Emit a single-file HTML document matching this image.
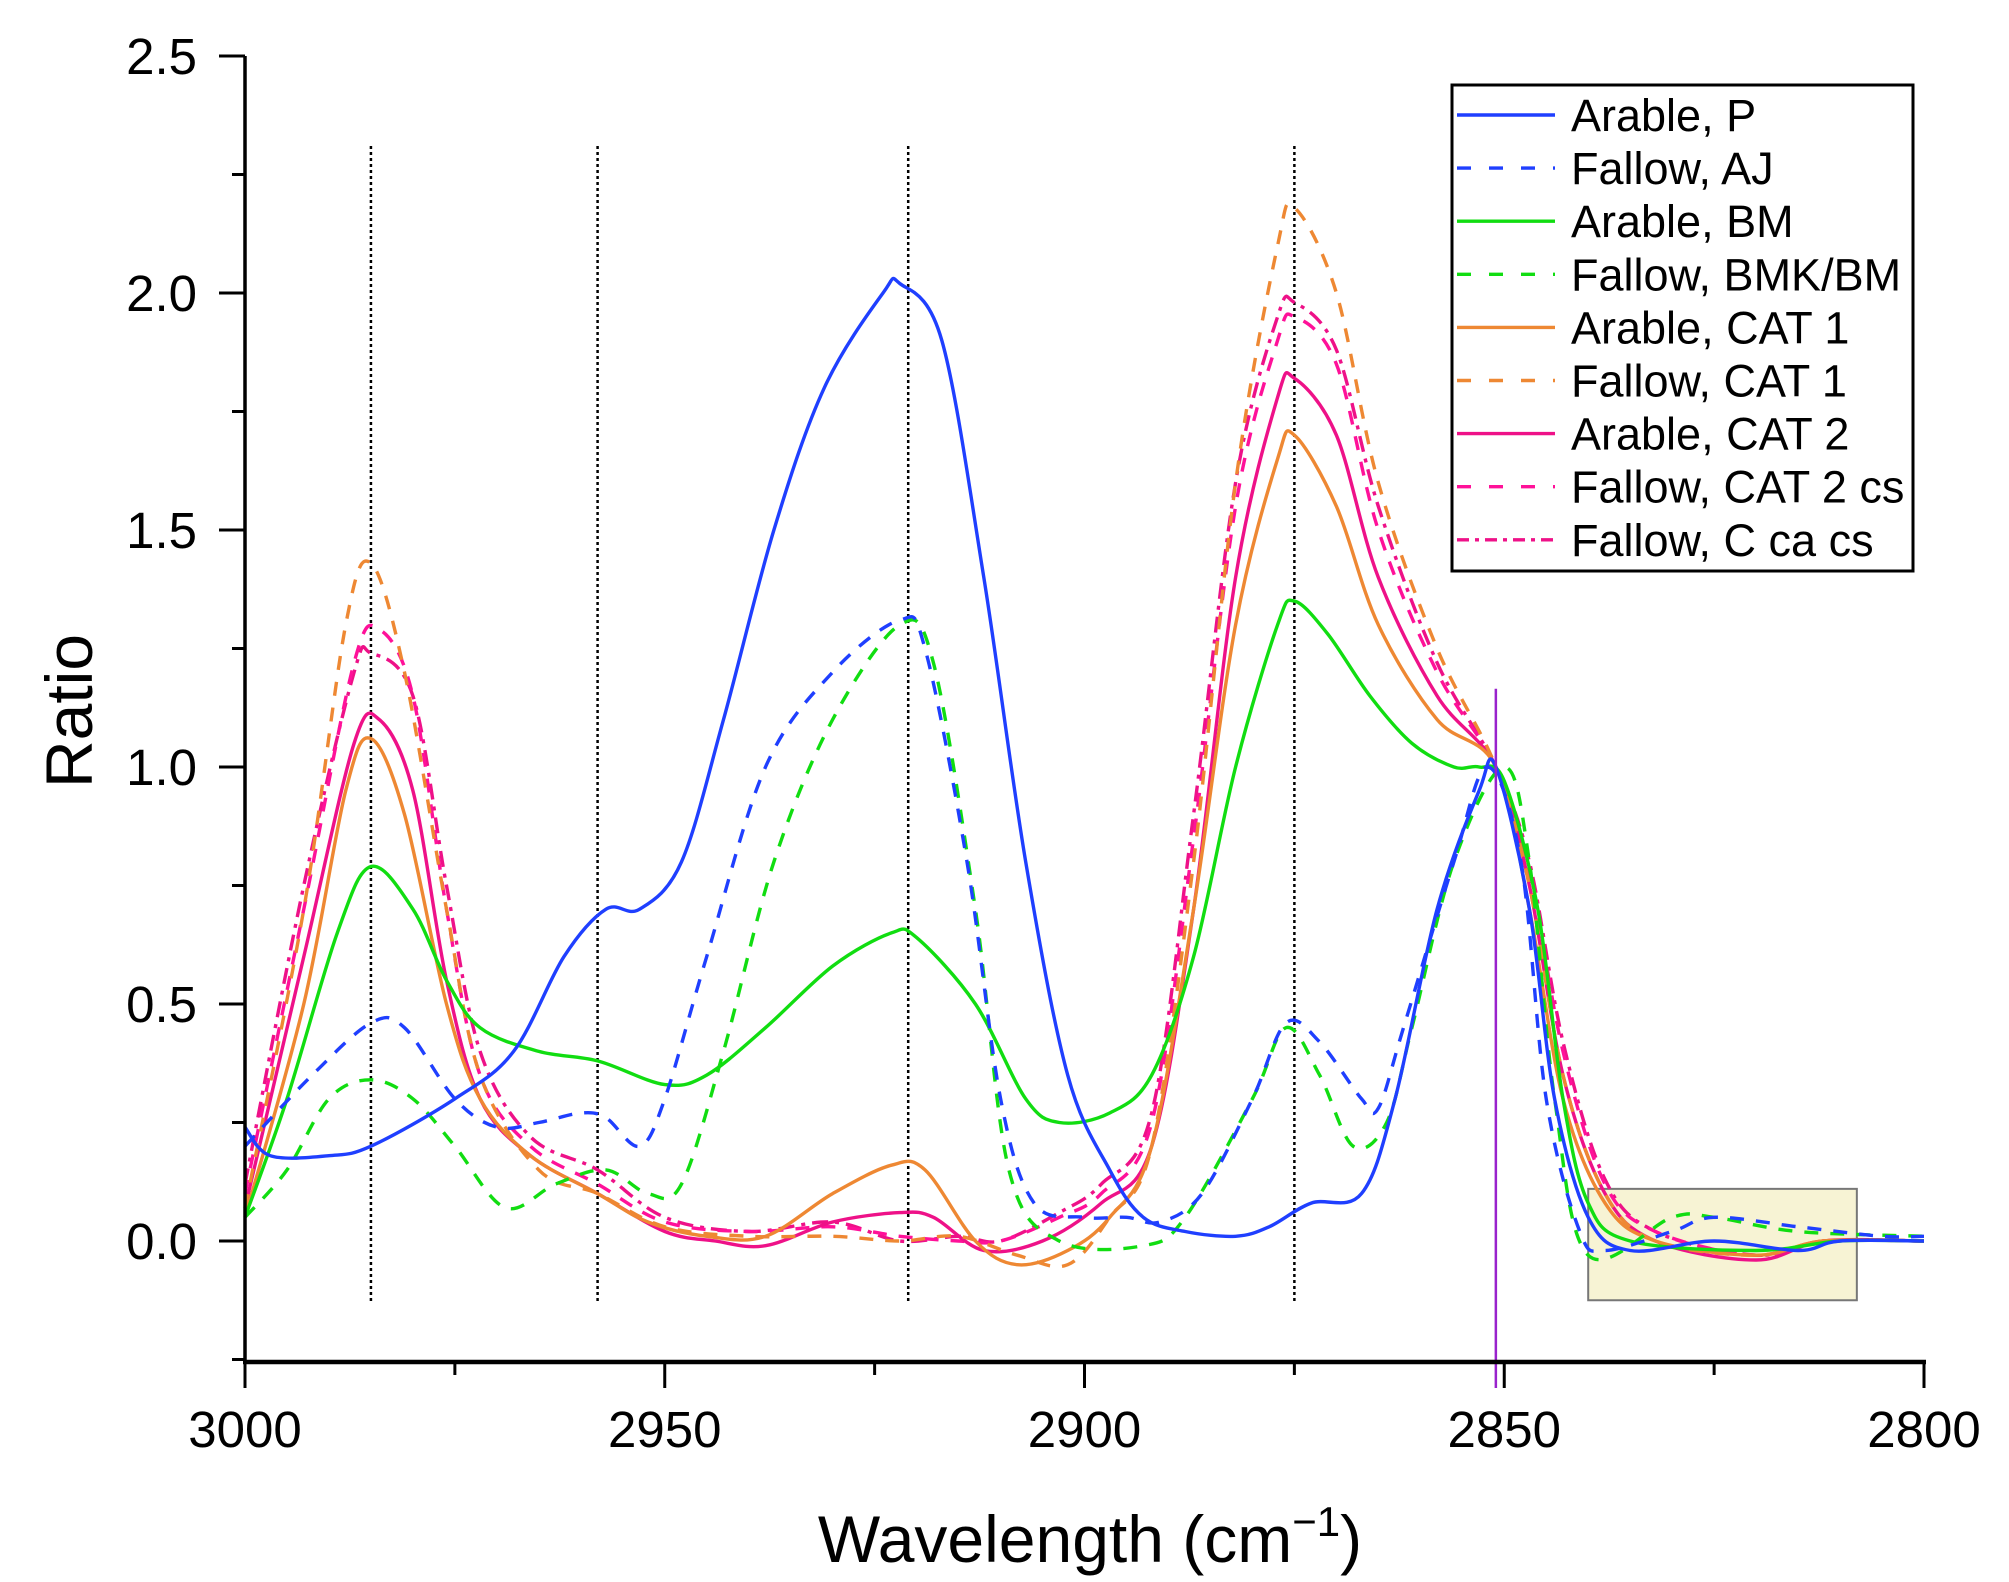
<!DOCTYPE html>
<html><head><meta charset="utf-8"><style>
html,body{margin:0;padding:0;background:#fff;}
svg{display:block;font-family:"Liberation Sans",Arial,sans-serif;}
</style></head><body>
<svg id="chart" width="2009" height="1582" viewBox="0 0 2009 1582" xmlns="http://www.w3.org/2000/svg">
<g id="grid"></g><g id="marks"></g><g id="axes"></g><g id="legend"></g>
</svg>
<script>
const xTicks=[3000,2950,2900,2850,2800];
const yTicks=[0.0,0.5,1.0,1.5,2.0,2.5];
const yTickLabels=["0.0","0.5","1.0","1.5","2.0","2.5"];
const markerLines=[2985,2958,2921,2875];
const seriesNames=["Arable, P","Fallow, AJ","Arable, BM","Fallow, BMK/BM","Arable, CAT 1","Fallow, CAT 1","Arable, CAT 2","Fallow, CAT 2 cs","Fallow, C ca cs"];
const pWn=[3000,2997,2990,2985,2975,2968,2962,2957,2953,2948,2943,2937,2931,2924,2922,2917,2912,2907,2902,2897,2893,2888,2882,2878,2873,2867,2863,2858,2853,2851,2847,2844,2840,2835,2825,2815,2810,2800];
const pVal=[0.24,0.18,0.18,0.2,0.3,0.4,0.6,0.7,0.7,0.8,1.1,1.5,1.8,2.0,2.02,1.9,1.4,0.8,0.35,0.15,0.05,0.02,0.01,0.03,0.08,0.1,0.3,0.7,0.95,1.0,0.7,0.3,0.05,-0.02,0,-0.02,0,0];
const ajWn=[3000,2992,2985,2981,2975,2970,2965,2960,2957,2953,2950,2945,2938,2930,2922,2919,2914,2910,2906,2900,2895,2891,2886,2880,2876,2872,2867,2865,2862,2856,2852,2848,2845,2841,2838,2830,2825,2815,2805,2800];
const ajVal=[0.2,0.35,0.46,0.45,0.3,0.24,0.25,0.27,0.26,0.2,0.3,0.6,1.0,1.2,1.31,1.25,0.8,0.3,0.08,0.05,0.05,0.04,0.1,0.3,0.46,0.42,0.3,0.28,0.45,0.8,1.0,0.8,0.3,0.02,-0.02,0.02,0.05,0.03,0.01,0.01];
const bmWn=[3000,2995,2989,2985,2980,2976,2972,2965,2958,2950,2945,2938,2930,2923,2920,2913,2907,2903,2897,2892,2887,2882,2877,2875,2871,2866,2861,2856,2853,2850,2846,2843,2840,2835,2820,2810,2800];
const bmVal=[0.05,0.3,0.65,0.79,0.7,0.55,0.45,0.4,0.38,0.33,0.35,0.45,0.58,0.65,0.64,0.5,0.3,0.25,0.27,0.35,0.6,1.0,1.3,1.35,1.28,1.15,1.05,1.0,1.0,0.97,0.7,0.3,0.08,0.0,-0.02,0.0,0];
const bmkWn=[3000,2995,2990,2985,2980,2975,2969,2963,2957,2952,2948,2943,2937,2930,2922,2918,2913,2909,2903,2893,2888,2880,2876,2872,2868,2864,2861,2856,2850,2847,2844,2840,2830,2825,2815,2800];
const bmkVal=[0.05,0.15,0.3,0.34,0.3,0.2,0.07,0.12,0.15,0.1,0.12,0.4,0.8,1.1,1.3,1.22,0.7,0.15,0.0,-0.01,0.05,0.3,0.45,0.35,0.2,0.25,0.45,0.8,1.0,0.8,0.3,-0.03,0.05,0.05,0.02,0.01];
const cat1Wn=[3000,2993,2988,2985,2981,2976,2972,2966,2958,2952,2945,2938,2930,2923,2919,2913,2908,2902,2897,2892,2887,2882,2877,2875,2870,2865,2858,2851,2847,2843,2838,2832,2820,2812,2800];
const cat1Val=[0.05,0.5,0.95,1.06,0.9,0.5,0.3,0.18,0.1,0.04,0.01,0.01,0.1,0.16,0.15,0.0,-0.05,-0.02,0.05,0.2,0.7,1.3,1.65,1.7,1.55,1.3,1.1,1.0,0.7,0.3,0.08,0,-0.03,0,0];
const fcat1Wn=[3000,2993,2988,2985,2981,2976,2972,2965,2958,2950,2940,2930,2922,2915,2908,2902,2897,2892,2887,2882,2877,2875,2870,2865,2858,2851,2847,2843,2838,2832,2820,2812,2800];
const fcat1Val=[0.07,0.7,1.3,1.43,1.2,0.7,0.35,0.15,0.1,0.03,0.01,0.01,0.0,0.01,-0.03,-0.05,0.05,0.2,0.8,1.6,2.1,2.18,2.0,1.6,1.25,1.0,0.75,0.35,0.1,0,-0.03,0,0];
const cat2Wn=[3000,2993,2987,2984,2980,2976,2972,2966,2958,2950,2944,2938,2930,2922,2918,2912,2905,2898,2892,2887,2882,2877,2875,2870,2865,2858,2851,2847,2843,2838,2832,2820,2812,2800];
const cat2Val=[0.07,0.6,1.05,1.1,0.95,0.55,0.3,0.18,0.1,0.02,0.0,-0.01,0.04,0.06,0.05,-0.02,0.0,0.08,0.2,0.7,1.4,1.78,1.82,1.7,1.4,1.15,1.0,0.75,0.35,0.1,0,-0.04,0,0];
const cat2csWn=[3000,2993,2987,2984,2980,2976,2972,2966,2958,2950,2940,2930,2922,2915,2910,2903,2898,2892,2887,2882,2877,2875,2870,2865,2858,2851,2847,2843,2838,2832,2820,2812,2800];
const cat2csVal=[0.1,0.7,1.22,1.29,1.15,0.7,0.35,0.2,0.12,0.04,0.02,0.03,0.01,0.0,0.0,0.05,0.1,0.25,0.85,1.55,1.9,1.95,1.85,1.5,1.2,1.0,0.78,0.4,0.12,0.02,-0.03,0,0];
const ccaWn=[3000,2993,2987,2985,2980,2976,2972,2966,2958,2950,2940,2930,2922,2915,2910,2903,2898,2892,2887,2882,2877,2875,2870,2865,2858,2851,2847,2843,2838,2832,2820,2812,2800];
const ccaVal=[0.12,0.75,1.2,1.24,1.15,0.75,0.4,0.22,0.15,0.05,0.02,0.04,0.0,0.01,0.0,0.06,0.12,0.27,0.9,1.6,1.95,1.98,1.88,1.55,1.22,1.0,0.8,0.42,0.13,0.02,-0.03,0,0];
const seriesWn=[pWn,ajWn,bmWn,bmkWn,cat1Wn,fcat1Wn,cat2Wn,cat2csWn,ccaWn];
const seriesVal=[pVal,ajVal,bmVal,bmkVal,cat1Val,fcat1Val,cat2Val,cat2csVal,ccaVal];
const seriesColor=["#1f3fff","#1f3fff","#11dd11","#11dd11","#ee8833","#ee8833","#ee1188","#ff1199","#ee1188"];
const seriesDash=["","14,12","","14,12","","14,12","","14,12","16,7,4,7"];
const seriesSlug=["arable-p","fallow-aj","arable-bm","fallow-bmk-bm","arable-cat1","fallow-cat1","arable-cat2","fallow-cat2-cs","fallow-c-ca-cs"];

const X0=245,X1=1924,Y0=1241,PER=474;
function sx(w){return X0+(3000-w)/200*(X1-X0);}
function sy(v){return Y0-v*PER;}
const NS="http://www.w3.org/2000/svg";
function mk(tag,attrs,parent,text){const e=document.createElementNS(NS,tag);for(const k in attrs)e.setAttribute(k,attrs[k]);if(text!==undefined)e.textContent=text;parent.appendChild(e);return e;}
const grid=document.getElementById('grid'),marks=document.getElementById('marks'),axes=document.getElementById('axes'),legend=document.getElementById('legend');

const hb=mk('rect',{x:sx(2840),y:sy(0.11),width:sx(2808)-sx(2840),height:sy(-0.125)-sy(0.11),fill:"#f7f3d4",stroke:"#777",'stroke-width':2},grid);


markerLines.forEach((w,i)=>{
  const l=mk('line',{x1:sx(w),x2:sx(w),y1:sy(2.31),y2:sy(-0.13),stroke:"#000",'stroke-width':2.5,'stroke-dasharray':"3,3"},grid);
  
  
});

function pathFor(wn,val){
  const pts=wn.map((w,i)=>[sx(w),sy(val[i])]);
  let d="M"+pts[0][0].toFixed(1)+","+pts[0][1].toFixed(1);
  for(let i=0;i<pts.length-1;i++){
    const p0=pts[Math.max(0,i-1)],p1=pts[i],p2=pts[i+1],p3=pts[Math.min(pts.length-1,i+2)];
    const c1=[p1[0]+(p2[0]-p0[0])/6,p1[1]+(p2[1]-p0[1])/6];
    const c2=[p2[0]-(p3[0]-p1[0])/6,p2[1]-(p3[1]-p1[1])/6];
    d+=" C"+c1[0].toFixed(1)+","+c1[1].toFixed(1)+" "+c2[0].toFixed(1)+","+c2[1].toFixed(1)+" "+p2[0].toFixed(1)+","+p2[1].toFixed(1);
  }
  return d;
}
for(let s=seriesWn.length-1;s>=0;s--){
  const a={d:pathFor(seriesWn[s],seriesVal[s]),fill:"none",stroke:seriesColor[s],'stroke-width':3.4,'stroke-linejoin':"round"};
  if(seriesDash[s])a['stroke-dasharray']=seriesDash[s];
  const p=mk('path',a,marks);
  
  
}
const pl=mk('line',{x1:sx(2851),x2:sx(2851),y1:sy(1.165),y2:1388,stroke:"#9922cc",'stroke-width':2.5},marks);



const ya=mk('line',{x1:X0,x2:X0,y1:56,y2:1362,stroke:"#000",'stroke-width':3.5},axes);


const xa=mk('line',{x1:X0-2,x2:X1+2,y1:1362,y2:1362,stroke:"#000",'stroke-width':4.5},axes);


for(let v=-0.25;v<=2.5001;v+=0.25){
  const major=Math.abs(v*2-Math.round(v*2))<1e-6;
  mk('line',{x1:X0-(major?26:13),x2:X0,y1:sy(v),y2:sy(v),stroke:"#000",'stroke-width':3},axes);
}
yTicks.forEach((v,i)=>{
  const t=mk('text',{x:197,y:sy(v)+18,'text-anchor':"end",'font-size':51},axes,yTickLabels[i]);
  
  
});
for(let w=3000;w>=2800;w-=25){
  const major=w%50===0;
  mk('line',{x1:sx(w),x2:sx(w),y1:1362,y2:1362+(major?26:13),stroke:"#000",'stroke-width':3},axes);
}
xTicks.forEach(w=>{
  const t=mk('text',{x:sx(w),y:1447,'text-anchor':"middle",'font-size':51},axes,String(w));
  
  
});
const xt=mk('text',{x:1090,y:1562,'text-anchor':"middle",'font-size':66},axes);


mk('tspan',{},xt,"Wavelength (cm");
mk('tspan',{dy:-26,'font-size':42},xt,"\u22121");
mk('tspan',{dy:26},xt,")");
const yt=mk('text',{x:0,y:0,transform:"translate(92,711) rotate(-90)",'text-anchor':"middle",'font-size':66},axes,"Ratio");



const lb=mk('rect',{x:1452,y:85,width:461,height:486,fill:"#fff",stroke:"#000",'stroke-width':3},legend);


seriesNames.forEach((n,i)=>{
  const y=115+i*53.1;
  const g=mk('g',{},legend);
  
  
  const a={x1:1457,x2:1555,y1:y,y2:y,stroke:seriesColor[i],'stroke-width':3.4};
  if(seriesDash[i])a['stroke-dasharray']=seriesDash[i]==="16,7,4,7"?"12,6,4,6":"14,18";
  mk('line',a,g);
  mk('text',{x:1571,y:y+16,'font-size':45},g,n);
});
</script>
</body></html>
